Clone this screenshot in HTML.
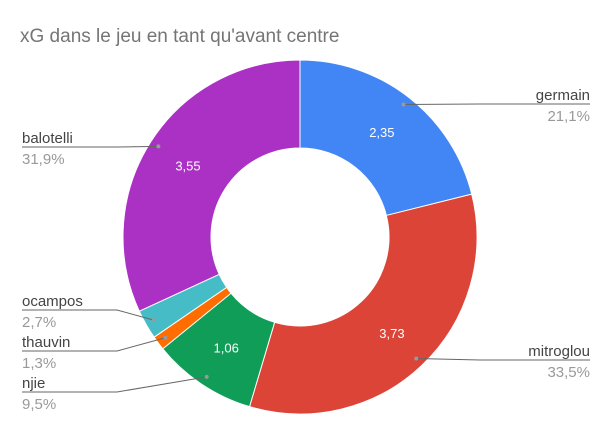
<!DOCTYPE html>
<html><head><meta charset="utf-8"><style>
body{margin:0;background:#fff;font-family:"Liberation Sans",Roboto,sans-serif}
svg{display:block}
</style></head><body>
<svg width="600" height="439" id="chart">
<rect width="600" height="439" fill="#fff"/>
<text x="20" y="42" font-size="19" fill="#757575">xG dans le jeu en tant qu'avant centre</text>
<g id="slices"></g>
<g id="labels"></g>
</svg>
<script>
const categories = ["germain","mitroglou","njie","thauvin","ocampos","balotelli"];
const values = [2.35,3.73,1.06,0.145,0.30,3.55];
const percentLabels = ["21,1%","33,5%","9,5%","1,3%","2,7%","31,9%"];
const valueLabels = ["2,35","3,73","1,06","","","3,55"];
const colors = ["#4285f4","#db4437","#0f9d58","#ff6d00","#46bdc6","#ab30c4"];
const cx=300, cy=237, R=177, r=89;
const NS="http://www.w3.org/2000/svg";
const total=values.reduce((a,b)=>a+b,0);
const sg=document.getElementById('slices'), lg=document.getElementById('labels');
function pt(a,rad){return [cx+rad*Math.sin(a), cy-rad*Math.cos(a)];}
// callout layout: side and label y for each category
const callout={germain:{side:'r',y:104},mitroglou:{side:'r',y:360},njie:{side:'l',y:392},thauvin:{side:'l',y:351},ocampos:{side:'l',y:310},balotelli:{side:'l',y:147}};
let acc=0;
values.forEach((v,i)=>{
  const a0=acc/total*2*Math.PI; acc+=v; const a1=acc/total*2*Math.PI;
  const large=(a1-a0)>Math.PI?1:0;
  const p0=pt(a0,R),p1=pt(a1,R),q1=pt(a1,r),q0=pt(a0,r);
  const p=document.createElementNS(NS,'path');
  p.setAttribute('d',`M${p0[0]},${p0[1]}A${R},${R} 0 ${large} 1 ${p1[0]},${p1[1]}L${q1[0]},${q1[1]}A${r},${r} 0 ${large} 0 ${q0[0]},${q0[1]}Z`);
  p.setAttribute('fill',colors[i]);p.setAttribute('stroke','#fff');p.setAttribute('stroke-width','1');
  
  
  sg.appendChild(p);
  const am=(a0+a1)/2;
  if(valueLabels[i]){
    const lp=pt(am,(R+r)/2);
    const t=document.createElementNS(NS,'text');
    t.setAttribute('x',lp[0]);t.setAttribute('y',lp[1]+5);t.setAttribute('text-anchor','middle');
    t.setAttribute('font-size','13');t.setAttribute('fill','#fff');t.textContent=valueLabels[i];
    
    
    sg.appendChild(t);
  }
  const d=pt(am,R*0.95), c=callout[categories[i]];
  const line=document.createElementNS(NS,'polyline');
  let pts, tx, anchor;
  if(c.side==='r'){ const bx=Math.max(d[0]+10,480); pts=`${d[0]},${d[1]} ${bx},${c.y} 590,${c.y}`; tx=590; anchor='end'; }
  else { const bx=Math.min(d[0]-10,117); pts=`${d[0]},${d[1]} ${bx},${c.y} 22,${c.y}`; tx=22; anchor='start'; }
  line.setAttribute('points',pts);line.setAttribute('fill','none');line.setAttribute('stroke','#666');line.setAttribute('stroke-width','1');
  
  
  lg.appendChild(line);
  const dot=document.createElementNS(NS,'circle');
  dot.setAttribute('cx',d[0]);dot.setAttribute('cy',d[1]);dot.setAttribute('r','2');dot.setAttribute('fill','#999');
  
  
  lg.appendChild(dot);
  const n=document.createElementNS(NS,'text');
  n.setAttribute('x',tx);n.setAttribute('y',c.y-4);n.setAttribute('text-anchor',anchor);n.setAttribute('font-size','15');n.setAttribute('fill','#444');
  n.textContent=categories[i];
  
  
  lg.appendChild(n);
  const pc=document.createElementNS(NS,'text');
  pc.setAttribute('x',tx);pc.setAttribute('y',c.y+17);pc.setAttribute('text-anchor',anchor);pc.setAttribute('font-size','15');pc.setAttribute('fill','#999');
  pc.textContent=percentLabels[i];
  
  
  lg.appendChild(pc);
});
</script>
</body></html>
